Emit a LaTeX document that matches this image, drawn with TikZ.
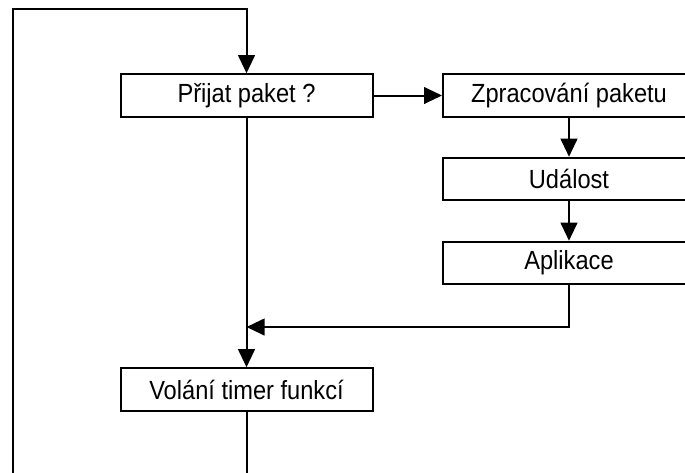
\documentclass[tikz,border=0pt]{standalone}
\usepackage{fontspec}
\setmainfont{Liberation Sans}[FakeStretch=0.9]
\usetikzlibrary{arrows.meta}
\begin{document}
\begin{tikzpicture}[x=0.75pt,y=-0.75pt,
  stepbox/.style={draw=black,line width=1.5pt,fill=white,inner sep=0pt,
    minimum width=189pt,minimum height=31.9pt,
    font=\fontsize{19.7pt}{22pt}\selectfont},
  flow/.style={draw=black,line width=1.5pt},
  arr/.style={flow,-{Triangle[length=13.5pt,width=12.5pt]}}]
\useasboundingbox (0,0) rectangle (685,472);
\clip (0,0) rectangle (685,472);
\fill[white] (0,0) rectangle (685,472);

% process boxes
\node[stepbox] (A) at (246.5,95.5) {Přijat paket ?};
\node[stepbox] (B) at (569,95.5) {Zpracování paketu};
\node[stepbox] (C) at (569,179) {Událost};
\node[stepbox] (D) at (569,263) {Aplikace};
\node[stepbox] (E) at (246.5,389.5) {Volání timer funkcí};

% helper points of the main loop
\coordinate (loopbot) at (13,520);
\coordinate (looptop) at (13,9);
\coordinate (join) at (246.5,327);

% connectors
\draw[arr] (A.east) -- (B.west);
\draw[arr] (B.south) -- (C.north);
\draw[arr] (C.south) -- (D.north);
\draw[arr] (D.south) |- (join);
\draw[arr] (A.south) -- (E.north);
\draw[arr] (E.south) |- (loopbot) -- (looptop) -| (A.north);
\end{tikzpicture}
\end{document}
